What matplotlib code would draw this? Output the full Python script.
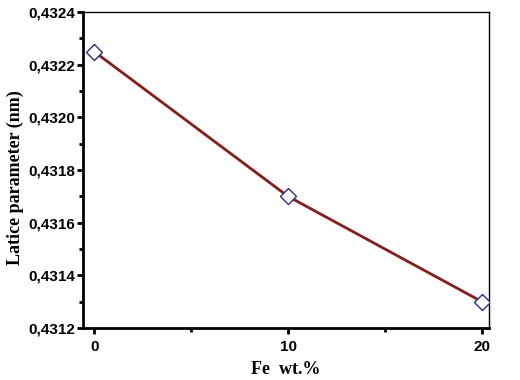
import matplotlib
matplotlib.use("Agg")
import matplotlib.pyplot as plt
from matplotlib.ticker import MultipleLocator, FuncFormatter

# Data
fe_wt = [0, 10, 20]
lattice = [0.43225, 0.4317, 0.4313]

fig = plt.figure(figsize=(5.2, 3.8), dpi=100)
ax = fig.add_axes([0.16, 0.137, 0.78, 0.831])

ax.plot(fe_wt, lattice, color="#8B1A1A", linewidth=2, zorder=2)
ax.plot(fe_wt, lattice, linestyle="none", marker="D", markersize=8,
        markerfacecolor="white", markeredgecolor="#2B2B8C", markeredgewidth=1, zorder=3)

ax.set_xlim(-0.57, 20.36)
ax.set_ylim(0.4312, 0.4324)
ax.xaxis.set_major_locator(MultipleLocator(10))
ax.xaxis.set_minor_locator(MultipleLocator(5))
ax.yaxis.set_major_locator(MultipleLocator(0.0002))
ax.yaxis.set_minor_locator(MultipleLocator(0.0001))
ax.yaxis.set_major_formatter(FuncFormatter(lambda v, p: f"{v:.4f}".replace(".", ",")))

for lab in ax.get_xticklabels() + ax.get_yticklabels():
    lab.set_fontfamily(["Liberation Sans Narrow", "Liberation Sans", "DejaVu Sans"])
    lab.set_fontweight("bold")
    lab.set_fontsize(11)

ax.tick_params(which="major", direction="out", length=4.5, width=2, pad=1.5)
ax.tick_params(which="minor", direction="out", length=3, width=2)
ax.tick_params(axis="x", which="major", pad=4)
ax.spines["left"].set_linewidth(2)
ax.spines["bottom"].set_linewidth(2)
ax.spines["top"].set_linewidth(1)
ax.spines["right"].set_linewidth(1)

label_font = dict(family=["Liberation Serif", "DejaVu Serif"], weight="bold", size=13)
ax.set_xlabel("Fe  wt.%", fontdict=label_font)
ax.set_ylabel("Latice parameter (nm)", fontdict=label_font)
ax.xaxis.set_label_coords(0.5, -0.105)
ax.yaxis.set_label_coords(-0.145, 0.475)

fig.savefig("out.png", dpi=100)
